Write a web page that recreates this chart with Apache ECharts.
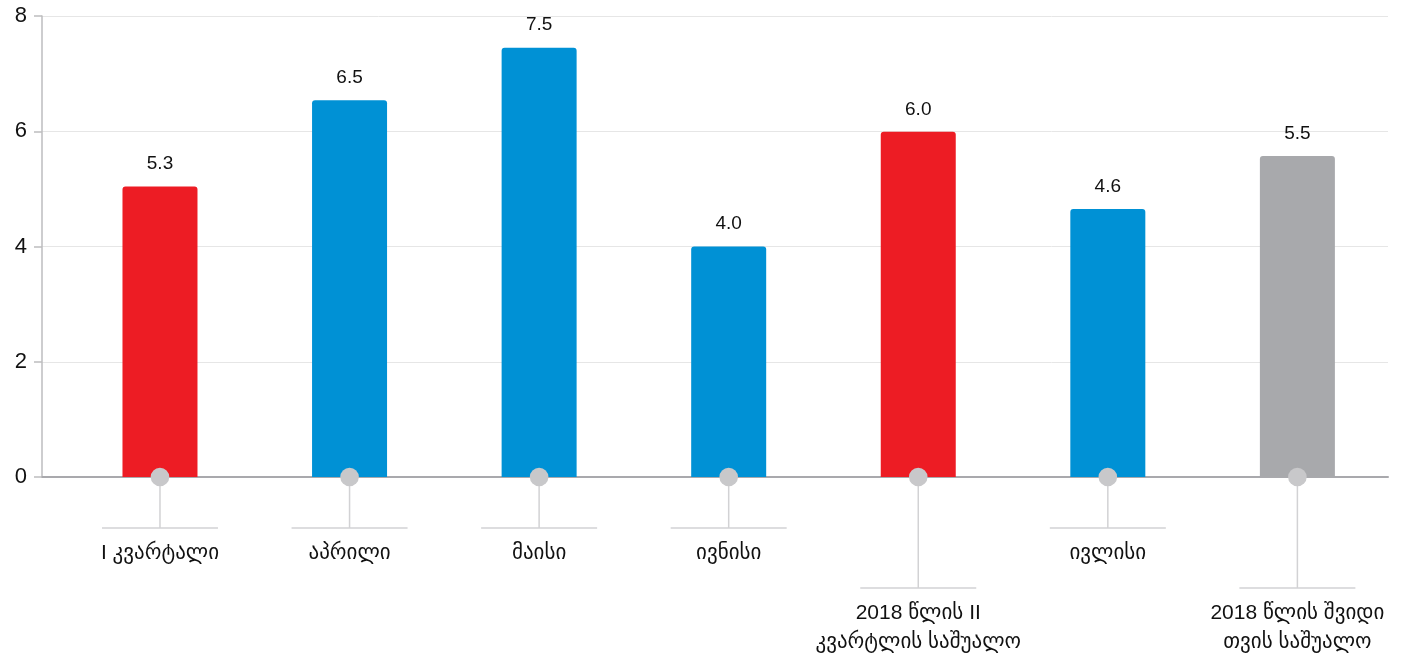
<!DOCTYPE html>
<html>
<head>
<meta charset="utf-8">
<script src="https://cdn.jsdelivr.net/npm/echarts@6/dist/echarts.min.js"></script>
<style>
html,body{margin:0;padding:0;background:#fff;}
#chart{width:1406px;height:658px;}
</style>
</head>
<body>
<div id="chart"></div>
<script>
// ---- data ----
const categories = ['I კვარტალი', 'აპრილი', 'მაისი', 'ივნისი', '2018 წლის II\nკვარტლის საშუალო', 'ივლისი', '2018 წლის შვიდი\nთვის საშუალო'];
const barHeights = [5.04, 6.54, 7.45, 4.0, 5.99, 4.65, 5.57];
const valueLabels = ['5.3', '6.5', '7.5', '4.0', '6.0', '4.6', '5.5'];
const barKinds = ['quarter', 'month', 'month', 'month', 'quarter', 'month', 'average'];
const yMin = 0, yMax = 8, yInterval = 2;

// ---- styling ----
const kindColors = { quarter: '#ed1c24', month: '#0091d5', average: '#a8a9ac' };
const FONT = '"Liberation Sans", Arial, "DejaVu Sans", sans-serif';

const chart = echarts.init(document.getElementById('chart'));

const barData = barHeights.map((v, i) => ({
  value: [i, v],
  itemStyle: { color: kindColors[barKinds[i]] },
  label: { formatter: valueLabels[i] }
}));
const leaderData = categories.map((c, i) => [i, 0]);

chart.setOption({
  animation: false,
  textStyle: { fontFamily: FONT },
  grid: { left: 42, right: 18, top: 16, bottom: 181, containLabel: false },
  xAxis: {
    type: 'value',
    min: -0.6224,
    max: 6.478,
    axisLine: { show: true, onZero: true, lineStyle: { color: '#a9a9ad', width: 2 } },
    axisTick: { show: false },
    axisLabel: { show: false },
    splitLine: { show: false }
  },
  yAxis: {
    type: 'value',
    min: yMin,
    max: yMax,
    interval: yInterval,
    axisLine: { show: true, onZero: false, lineStyle: { color: '#bdbdbf', width: 1.5 } },
    axisTick: { show: true, length: 8, lineStyle: { color: '#bdbdbf', width: 1.5 } },
    axisLabel: { color: '#111', fontSize: 22, margin: 15, fontFamily: FONT },
    splitLine: { show: true, lineStyle: { color: '#e6e6e6', width: 1 } }
  },
  series: [
    {
      type: 'bar',
      data: barData,
      barWidth: 75,
      itemStyle: { borderRadius: [3, 3, 0, 0] },
      label: {
        show: true,
        position: 'top',
        distance: 13,
        color: '#111',
        fontSize: 19,
        fontFamily: FONT
      },
      z: 2
    },
    {
      type: 'custom',
      clip: false,
      z: 5,
      data: leaderData,
      renderItem: function (params, api) {
        const i = api.value(0);
        const p = api.coord([i, 0]);
        const text = categories[i];
        const long = text.indexOf('\n') >= 0;
        const drop = long ? 111 : 51;
        const half = 58;
        const lineStyle = { stroke: '#d2d2d4', lineWidth: 1.5 };
        return {
          type: 'group',
          children: [
            { type: 'line', shape: { x1: p[0], y1: p[1], x2: p[0], y2: p[1] + drop }, style: lineStyle },
            { type: 'line', shape: { x1: p[0] - half, y1: p[1] + drop, x2: p[0] + half, y2: p[1] + drop }, style: lineStyle },
            { type: 'circle', shape: { cx: p[0], cy: p[1], r: 9.3 }, style: { fill: '#c8c8ca' } },
            {
              type: 'text',
              x: p[0],
              y: p[1] + drop + 11,
              style: {
                text: text,
                align: 'center',
                verticalAlign: 'top',
                fill: '#111',
                fontSize: 21,
                lineHeight: 29,
                fontFamily: FONT
              }
            }
          ]
        };
      }
    }
  ]
});
</script>
</body>
</html>
